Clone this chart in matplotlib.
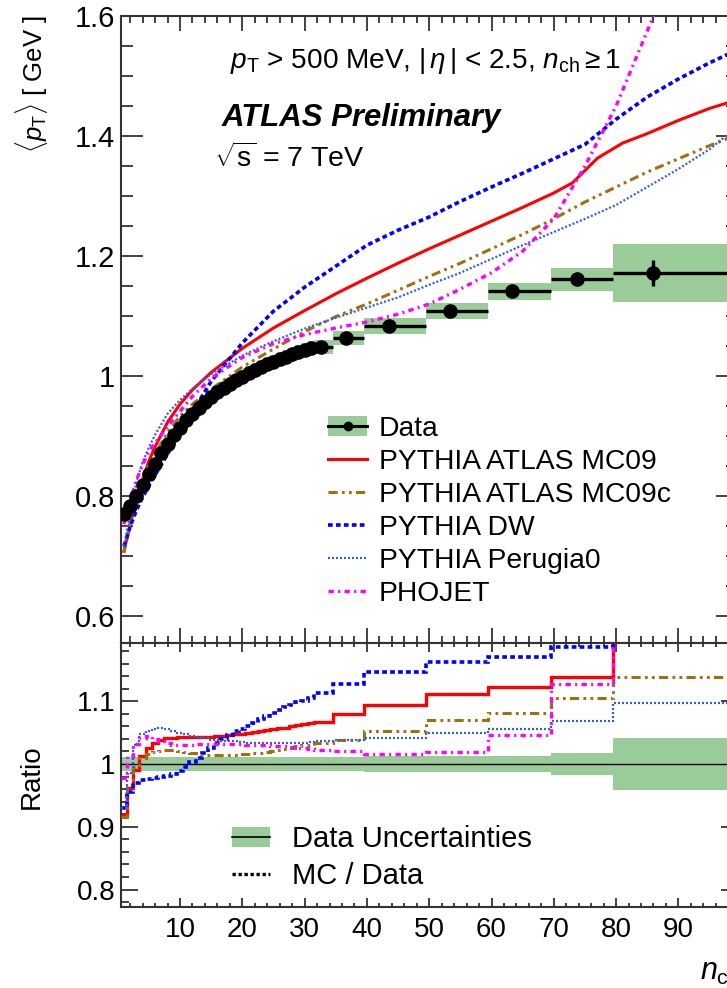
import numpy as np
import matplotlib
matplotlib.use("Agg")
import matplotlib.pyplot as plt
from matplotlib.lines import Line2D
from matplotlib.patches import Patch
from matplotlib.ticker import MultipleLocator, FixedLocator, FormatStrFormatter

plt.rcParams['font.family'] = ['Liberation Sans', 'DejaVu Sans']
plt.rcParams['mathtext.fontset'] = 'custom'
plt.rcParams['mathtext.rm'] = 'Liberation Sans'
plt.rcParams['mathtext.it'] = 'Liberation Sans:italic'
plt.rcParams['mathtext.bf'] = 'Liberation Sans:bold'

# ---- data ----
# single-multiplicity points n_ch = 1..31
n_single = [1, 2, 3, 4, 5, 6, 7, 8, 9, 10, 11, 12, 13, 14, 15, 16, 17, 18, 19, 20,
            21, 22, 23, 24, 25, 26, 27, 28, 29, 30, 31]
pt_single = [0.770, 0.783, 0.800, 0.818, 0.837, 0.854, 0.871, 0.887, 0.901, 0.914,
             0.926, 0.937, 0.947, 0.956, 0.965, 0.973, 0.980, 0.987, 0.993, 0.999,
             1.005, 1.010, 1.015, 1.020, 1.024, 1.028, 1.032, 1.036, 1.040, 1.043, 1.046]
# wide bins at high multiplicity
bin_lo = [31.5, 34.5, 39.5, 49.5, 59.5, 69.5, 79.5]
bin_hi = [34.5, 39.5, 49.5, 59.5, 69.5, 79.5, 120.0]
n_bin = [32.7, 36.6, 43.6, 53.3, 63.3, 73.7, 86.0]
pt_bin = [1.049, 1.063, 1.083, 1.109, 1.141, 1.161, 1.172]
stat_bin = [0.0, 0.0, 0.002, 0.003, 0.004, 0.007, 0.022]
# relative data uncertainty (band)
unc_single = [0.011] * 31
unc_bin = [0.011, 0.011, 0.012, 0.012, 0.012, 0.017, 0.041]

# MC predictions, top panel
mc_n = [1, 2, 3, 4, 5, 6, 8, 10, 12, 15, 20, 25, 30, 35, 40, 45, 50, 55, 60, 65,
        70, 75, 80, 85, 90, 95, 100]
mc09_n = [1, 2, 3, 4, 5, 6, 8, 10, 12, 15, 20, 25, 30, 35, 40, 45, 50, 55, 60, 65,
          70, 73, 77, 81, 85, 90, 95, 100]
mc09 = [0.708, 0.752, 0.792, 0.827, 0.858, 0.882, 0.923, 0.953, 0.977, 1.006, 1.046,
        1.080, 1.109, 1.137, 1.163, 1.188, 1.212, 1.235, 1.258, 1.281, 1.305, 1.322,
        1.363, 1.388, 1.404, 1.426, 1.446, 1.462]
mc09c = [0.705, 0.755, 0.797, 0.826, 0.850, 0.870, 0.906, 0.933, 0.953, 0.978, 1.015,
         1.045, 1.074, 1.099, 1.120, 1.143, 1.166, 1.188, 1.212, 1.236, 1.262, 1.290,
         1.315, 1.340, 1.362, 1.384, 1.404]
dw = [0.716, 0.749, 0.776, 0.798, 0.817, 0.835, 0.870, 0.904, 0.940, 0.991, 1.055,
      1.108, 1.148, 1.183, 1.218, 1.243, 1.265, 1.291, 1.315, 1.338, 1.362, 1.386,
      1.428, 1.465, 1.495, 1.522, 1.546]
perugia0 = [0.716, 0.771, 0.824, 0.856, 0.881, 0.902, 0.937, 0.960, 0.979, 1.003, 1.034,
            1.058, 1.079, 1.097, 1.114, 1.131, 1.152, 1.172, 1.195, 1.218, 1.240, 1.262,
            1.285, 1.315, 1.345, 1.378, 1.420]
phojet = [0.753, 0.792, 0.826, 0.852, 0.875, 0.888, 0.916, 0.941, 0.966, 0.996, 1.031,
          1.054, 1.069, 1.080, 1.090, 1.103, 1.120, 1.145, 1.172, 1.208, 1.262, 1.350,
          1.450, 1.575, 1.700, 1.850, 2.000]

# MC / Data ratios per data bin (31 singles + 7 wide bins)
ratio_edges = [0.5, 1.5, 2.5, 3.5, 4.5, 5.5, 6.5, 7.5, 8.5, 9.5, 10.5, 11.5, 12.5, 13.5,
               14.5, 15.5, 16.5, 17.5, 18.5, 19.5, 20.5, 21.5, 22.5, 23.5, 24.5, 25.5,
               26.5, 27.5, 28.5, 29.5, 30.5, 31.5, 34.5, 39.5, 49.5, 59.5, 69.5, 79.5, 120.0]
r_mc09 = [0.919, 0.961, 0.990, 1.012, 1.025, 1.033, 1.039, 1.041, 1.042, 1.043, 1.043,
          1.043, 1.043, 1.043, 1.043, 1.044, 1.045, 1.046, 1.047, 1.048, 1.050, 1.051,
          1.052, 1.054, 1.056, 1.057, 1.058, 1.060, 1.062, 1.063, 1.065,
          1.067, 1.080, 1.094, 1.111, 1.122, 1.138, 1.250]
r_mc09c = [0.916, 0.964, 0.996, 1.010, 1.016, 1.019, 1.021, 1.022, 1.022, 1.021, 1.019,
           1.017, 1.015, 1.014, 1.014, 1.014, 1.014, 1.015, 1.015, 1.016, 1.016, 1.017,
           1.018, 1.019, 1.020, 1.022, 1.024, 1.026, 1.028, 1.030, 1.031,
           1.034, 1.039, 1.053, 1.070, 1.082, 1.105, 1.139]
r_dw = [0.930, 0.956, 0.970, 0.975, 0.976, 0.977, 0.979, 0.981, 0.984, 0.989, 0.995,
        1.003, 1.010, 1.018, 1.026, 1.034, 1.040, 1.046, 1.052, 1.056, 1.060, 1.066,
        1.072, 1.077, 1.082, 1.086, 1.090, 1.094, 1.098, 1.101, 1.105,
        1.113, 1.128, 1.147, 1.163, 1.171, 1.187, 1.300]
r_perugia0 = [0.930, 0.985, 1.030, 1.047, 1.053, 1.056, 1.057, 1.056, 1.053, 1.050, 1.047,
              1.045, 1.043, 1.041, 1.039, 1.038, 1.037, 1.036, 1.036, 1.035, 1.034, 1.034,
              1.033, 1.033, 1.033, 1.033, 1.033, 1.033, 1.034, 1.034, 1.035,
              1.036, 1.038, 1.042, 1.050, 1.056, 1.069, 1.097]
r_phojet = [0.978, 1.012, 1.032, 1.042, 1.045, 1.040, 1.036, 1.033, 1.031, 1.030, 1.030,
            1.031, 1.032, 1.032, 1.032, 1.032, 1.032, 1.032, 1.032, 1.032, 1.031, 1.031,
            1.030, 1.030, 1.029, 1.029, 1.028, 1.027, 1.026, 1.025, 1.024,
            1.022, 1.020, 1.016, 1.019, 1.046, 1.128, 1.400]

GREEN = '#99cc99'
C_MC09 = '#ff0000'
C_MC09C = '#a07010'
C_DW = '#0000ff'
C_PER = '#2f5fe0'
C_PHO = '#ff00ff'
LS_MC09C = (0, (3.0, 1.4, 0.9, 1.4, 0.9, 1.4))
LS_DW = (0, (1.3, 0.9))
LS_PER = (0, (0.9, 0.9))
LS_PHO = (0, (1.6, 1.3, 0.6, 1.3))

W, H = 727, 988


def fx(x):
    return x / W


def fy(y):
    return 1 - y / H


fig = plt.figure(figsize=(W / 100, H / 100), dpi=100)
ax1 = fig.add_axes([fx(120.8), fy(643), 616.8 / W, 627 / H])
ax2 = fig.add_axes([fx(120.8), fy(907.3), 616.8 / W, 264.3 / H])

# ---- top panel ----
ps = np.array(pt_single)
pb = np.array(pt_bin)
ns = np.array(n_single)
ax1.bar(ns - 0.5, 2 * ps * np.array(unc_single), bottom=ps * (1 - np.array(unc_single)),
        width=1.0, align='edge', color=GREEN, lw=0, zorder=2)
lo = np.array(bin_lo)
hi = np.array(bin_hi)
ax1.bar(lo, 2 * pb * np.array(unc_bin), bottom=pb * (1 - np.array(unc_bin)),
        width=hi - lo, align='edge', color=GREEN, lw=0, zorder=2)

ax1.plot(mc09_n, mc09, color=C_MC09, lw=2.2, zorder=3)
ax1.plot(mc_n, mc09c, color=C_MC09C, lw=2.2, ls=LS_MC09C, zorder=3)
ax1.plot(mc_n, dw, color=C_DW, lw=2.6, ls=LS_DW, zorder=3)
ax1.plot(mc_n, perugia0, color=C_PER, lw=1.6, ls=LS_PER, zorder=3)
ax1.plot(mc_n, phojet, color=C_PHO, lw=2.4, ls=LS_PHO, zorder=3)

ax1.errorbar(ns, ps, xerr=0.5, fmt='o', color='k', ms=9.5, elinewidth=2.2, capsize=0, zorder=5)
nb = np.array(n_bin)
ax1.errorbar(nb, pb, xerr=[nb - lo, hi - nb], yerr=stat_bin, fmt='o', color='k', ms=9.5,
             elinewidth=2.4, capsize=0, zorder=5)

ax1.set_xlim(0.5, 99.5)
ax1.set_ylim(0.555, 1.6)
ax1.yaxis.set_major_locator(FixedLocator([0.6, 0.8, 1.0, 1.2, 1.4, 1.6]))
ax1.yaxis.set_major_formatter(FormatStrFormatter('%g'))
ax1.yaxis.set_minor_locator(MultipleLocator(0.05))
ax1.xaxis.set_major_locator(MultipleLocator(10))
ax1.xaxis.set_minor_locator(MultipleLocator(2))
ax1.tick_params(axis='both', which='both', direction='in', top=True, right=True,
                labelbottom=False, width=1.3, color='#333333')
ax1.tick_params(axis='y', which='major', length=16, labelsize=21, pad=4)
ax1.tick_params(axis='y', which='minor', length=8.4)
ax1.tick_params(axis='x', which='major', length=11)
ax1.tick_params(axis='x', which='minor', length=5.3)

leg_handles = [
    (Patch(facecolor=GREEN, edgecolor='none'),
     Line2D([], [], color='k', lw=2.2, marker='o', ms=6)),
    Line2D([], [], color=C_MC09, lw=2.2),
    Line2D([], [], color=C_MC09C, lw=2.2, ls=LS_MC09C),
    Line2D([], [], color=C_DW, lw=2.6, ls=LS_DW),
    Line2D([], [], color=C_PER, lw=1.6, ls=LS_PER),
    Line2D([], [], color=C_PHO, lw=2.4, ls=LS_PHO),
]
leg_labels = ['Data', 'PYTHIA ATLAS MC09', 'PYTHIA ATLAS MC09c', 'PYTHIA DW',
              'PYTHIA Perugia0', 'PHOJET']
ax1.legend(leg_handles, leg_labels, loc='upper left', bbox_to_anchor=(fx(328), fy(416)),
           bbox_transform=fig.transFigure, frameon=False, fontsize=20.3,
           handlelength=1.4, handletextpad=0.4, labelspacing=0.25,
           borderpad=0, borderaxespad=0)

fig.text(fx(230), fy(68), r'$p_{\mathrm{T}}$ > 500 MeV, $|\,\eta\,|$ < 2.5, $n_{\mathrm{ch}}\geq 1$',
         fontsize=20.2, ha='left', va='baseline')
fig.text(fx(222), fy(126), 'ATLAS Preliminary', fontsize=22.4, fontweight='bold',
         fontstyle='italic', ha='left', va='baseline')
fig.text(fx(214), fy(167), r'$\sqrt{\mathrm{s}}$ = 7 TeV', fontsize=20.5, ha='left', va='baseline')
fig.text(fx(32), fy(15), r'$\langle p_{\mathrm{T}}\rangle$ [ GeV ]', fontsize=18.5,
         rotation=90, ha='center', va='top')

# ---- ratio panel ----
edges = np.array(ratio_edges)
unc_all = np.array(unc_single + unc_bin)
ax2.bar(edges[:-1], 2 * unc_all, bottom=1 - unc_all, width=np.diff(edges), align='edge',
        color=GREEN, lw=0, zorder=2)
ax2.axhline(1.0, color='k', lw=1.0, zorder=3)
ax2.stairs(r_mc09, edges, baseline=None, color=C_MC09, lw=2.4, zorder=4)
ax2.stairs(r_mc09c, edges, baseline=None, color=C_MC09C, lw=2.2, ls=LS_MC09C, zorder=4)
ax2.stairs(r_dw, edges, baseline=None, color=C_DW, lw=2.6, ls=LS_DW, zorder=4)
ax2.stairs(r_perugia0, edges, baseline=None, color=C_PER, lw=1.6, ls=LS_PER, zorder=4)
ax2.stairs(r_phojet, edges, baseline=None, color=C_PHO, lw=2.4, ls=LS_PHO, zorder=4)

ax2.set_xlim(0.5, 99.5)
ax2.set_ylim(0.7718, 1.1927)
ax2.yaxis.set_major_locator(FixedLocator([0.8, 0.9, 1.0, 1.1]))
ax2.yaxis.set_major_formatter(FormatStrFormatter('%g'))
ax2.yaxis.set_minor_locator(MultipleLocator(0.02))
ax2.xaxis.set_major_locator(MultipleLocator(10))
ax2.xaxis.set_major_formatter(FormatStrFormatter('%g'))
ax2.xaxis.set_minor_locator(MultipleLocator(2))
ax2.tick_params(axis='both', which='both', direction='in', top=True, right=True,
                width=1.3, color='#333333', labelsize=20)
ax2.tick_params(axis='y', which='major', length=12, pad=4)
ax2.tick_params(axis='y', which='minor', length=6)
ax2.tick_params(axis='x', which='major', length=6.5, pad=7)
ax2.tick_params(axis='x', which='minor', length=3)

leg2_handles = [
    (Patch(facecolor=GREEN, edgecolor='none'), Line2D([], [], color='k', lw=1.2)),
    Line2D([], [], color='k', lw=2.4, ls=(0, (1.0, 0.8))),
]
ax2.legend(leg2_handles, ['Data Uncertainties', 'MC / Data'], loc='upper left',
           bbox_to_anchor=(fx(232), fy(825)), bbox_transform=fig.transFigure,
           frameon=False, fontsize=21, handlelength=1.3, handletextpad=0.75,
           labelspacing=0.3, borderpad=0, borderaxespad=0)

fig.text(fx(32), fy(777), 'Ratio', fontsize=20, rotation=90, ha='center', va='center')
fig.text(fx(740), fy(980), r'$n_{\mathrm{ch}}$', fontsize=22, ha='right', va='baseline')

for ax in (ax1, ax2):
    for sp in ax.spines.values():
        sp.set_linewidth(1.5)
        sp.set_color('#333333')

fig.savefig('out.png', dpi=100)
